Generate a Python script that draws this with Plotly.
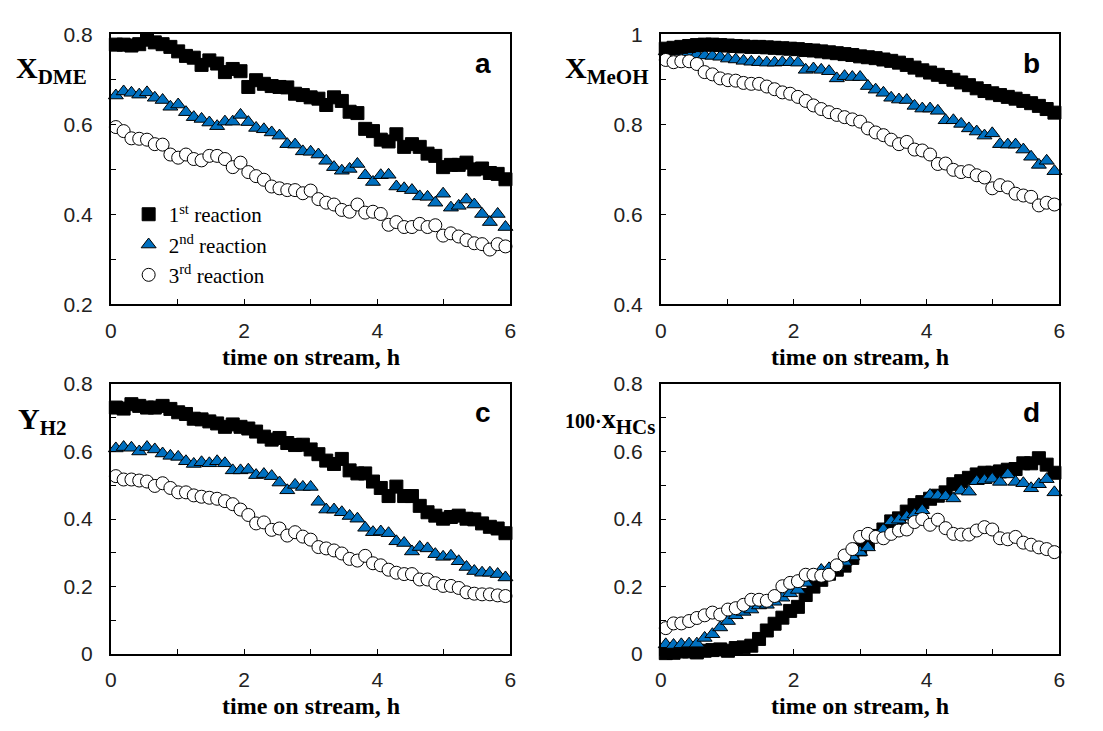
import plotly.graph_objects as go

# time on stream, h
time_h = [0.075, 0.192, 0.309, 0.426, 0.543, 0.66, 0.777, 0.894, 1.011, 1.128,
          1.245, 1.362, 1.479, 1.596, 1.713, 1.83, 1.947, 2.064, 2.181, 2.298,
          2.415, 2.532, 2.649, 2.766, 2.883, 3.0, 3.117, 3.234, 3.351, 3.468,
          3.585, 3.702, 3.819, 3.936, 4.053, 4.17, 4.287, 4.404, 4.521, 4.638,
          4.755, 4.872, 4.989, 5.106, 5.223, 5.34, 5.457, 5.574, 5.691, 5.808, 5.925]

series_names = ["1<sup>st</sup> reaction", "2<sup>nd</sup> reaction", "3<sup>rd</sup> reaction"]

# (a) X_DME
a_r1 = [0.777, 0.777, 0.775, 0.778, 0.788, 0.782, 0.778, 0.772, 0.762, 0.752,
        0.748, 0.732, 0.742, 0.735, 0.716, 0.723, 0.718, 0.683, 0.698, 0.690,
        0.685, 0.683, 0.682, 0.668, 0.665, 0.660, 0.657, 0.643, 0.660, 0.652,
        0.628, 0.625, 0.590, 0.585, 0.566, 0.562, 0.578, 0.550, 0.556, 0.550,
        0.535, 0.530, 0.505, 0.510, 0.510, 0.515, 0.500, 0.502, 0.492, 0.490, 0.478]
a_r2 = [0.664, 0.673, 0.670, 0.666, 0.671, 0.659, 0.654, 0.639, 0.644, 0.627,
        0.616, 0.612, 0.604, 0.596, 0.606, 0.606, 0.621, 0.605, 0.592, 0.589,
        0.582, 0.575, 0.556, 0.555, 0.540, 0.539, 0.533, 0.519, 0.505, 0.497,
        0.501, 0.512, 0.487, 0.472, 0.487, 0.488, 0.462, 0.458, 0.454, 0.440,
        0.439, 0.426, 0.446, 0.415, 0.419, 0.433, 0.422, 0.401, 0.383, 0.401, 0.372]
a_r3 = [0.594, 0.585, 0.569, 0.568, 0.566, 0.556, 0.555, 0.533, 0.526, 0.533,
        0.523, 0.520, 0.530, 0.530, 0.523, 0.505, 0.515, 0.494, 0.485, 0.477,
        0.462, 0.458, 0.454, 0.454, 0.447, 0.453, 0.434, 0.426, 0.422, 0.410,
        0.406, 0.422, 0.404, 0.406, 0.401, 0.377, 0.383, 0.372, 0.372, 0.379,
        0.372, 0.376, 0.353, 0.358, 0.351, 0.343, 0.336, 0.334, 0.322, 0.334, 0.329]

# (b) X_MeOH
b_r1 = [0.968, 0.970, 0.972, 0.974, 0.976, 0.977, 0.977, 0.976, 0.975, 0.974,
        0.973, 0.972, 0.972, 0.971, 0.970, 0.969, 0.968, 0.967, 0.965, 0.964,
        0.962, 0.960, 0.958, 0.956, 0.954, 0.951, 0.949, 0.947, 0.944, 0.941,
        0.937, 0.932, 0.926, 0.920, 0.915, 0.910, 0.905, 0.899, 0.893, 0.887,
        0.880, 0.874, 0.869, 0.865, 0.861, 0.857, 0.852, 0.847, 0.841, 0.834, 0.826]
b_r2 = [0.962, 0.962, 0.961, 0.960, 0.955, 0.953, 0.952, 0.950, 0.946, 0.944,
        0.941, 0.939, 0.938, 0.937, 0.937, 0.938, 0.938, 0.937, 0.921, 0.924,
        0.921, 0.918, 0.902, 0.907, 0.905, 0.905, 0.885, 0.877, 0.870, 0.859,
        0.855, 0.854, 0.841, 0.835, 0.835, 0.830, 0.809, 0.809, 0.801, 0.791,
        0.784, 0.775, 0.780, 0.756, 0.755, 0.755, 0.744, 0.728, 0.710, 0.719, 0.696]
b_r3 = [0.943, 0.938, 0.940, 0.940, 0.934, 0.916, 0.911, 0.902, 0.898, 0.897,
        0.892, 0.890, 0.890, 0.884, 0.878, 0.871, 0.868, 0.861, 0.852, 0.842,
        0.834, 0.827, 0.821, 0.816, 0.811, 0.806, 0.791, 0.782, 0.776, 0.766,
        0.756, 0.761, 0.744, 0.742, 0.733, 0.712, 0.713, 0.699, 0.694, 0.696,
        0.687, 0.682, 0.658, 0.665, 0.660, 0.646, 0.642, 0.639, 0.620, 0.626, 0.622]

# (c) Y_H2
c_r1 = [0.730, 0.727, 0.740, 0.735, 0.730, 0.730, 0.735, 0.726, 0.716, 0.711,
        0.697, 0.695, 0.689, 0.683, 0.673, 0.680, 0.673, 0.668, 0.659, 0.644,
        0.635, 0.640, 0.625, 0.619, 0.620, 0.606, 0.592, 0.573, 0.563, 0.578,
        0.544, 0.535, 0.535, 0.511, 0.492, 0.468, 0.496, 0.468, 0.468, 0.439,
        0.420, 0.410, 0.401, 0.406, 0.410, 0.401, 0.399, 0.387, 0.377, 0.372, 0.358]
c_r2 = [0.609, 0.613, 0.611, 0.600, 0.613, 0.606, 0.594, 0.587, 0.584, 0.571,
        0.563, 0.568, 0.565, 0.571, 0.565, 0.544, 0.544, 0.546, 0.530, 0.533,
        0.527, 0.508, 0.485, 0.501, 0.495, 0.495, 0.451, 0.428, 0.428, 0.420,
        0.409, 0.401, 0.374, 0.361, 0.363, 0.358, 0.334, 0.329, 0.304, 0.317,
        0.313, 0.296, 0.288, 0.291, 0.275, 0.258, 0.246, 0.241, 0.241, 0.237, 0.227]
c_r3 = [0.527, 0.517, 0.517, 0.514, 0.511, 0.498, 0.506, 0.492, 0.479, 0.479,
        0.470, 0.466, 0.463, 0.460, 0.453, 0.444, 0.428, 0.412, 0.387, 0.390,
        0.368, 0.372, 0.351, 0.361, 0.348, 0.339, 0.317, 0.313, 0.307, 0.298,
        0.282, 0.277, 0.291, 0.269, 0.263, 0.250, 0.241, 0.237, 0.237, 0.221,
        0.221, 0.210, 0.202, 0.202, 0.196, 0.183, 0.179, 0.177, 0.177, 0.174, 0.172]

# (d) 100*x_HCs
d_r1 = [0.003, 0.004, 0.008, 0.008, 0.005, 0.010, 0.012, 0.014, 0.010, 0.018,
        0.020, 0.025, 0.045, 0.070, 0.090, 0.108, 0.128, 0.140, 0.175, 0.200,
        0.220, 0.238, 0.250, 0.262, 0.285, 0.310, 0.331, 0.350, 0.369, 0.393,
        0.402, 0.422, 0.441, 0.450, 0.460, 0.469, 0.479, 0.503, 0.512, 0.522,
        0.532, 0.537, 0.537, 0.541, 0.546, 0.548, 0.565, 0.565, 0.580, 0.561, 0.537]
d_r2 = [0.029, 0.027, 0.029, 0.031, 0.031, 0.048, 0.059, 0.079, 0.098, 0.115,
        0.125, 0.132, 0.144, 0.146, 0.155, 0.167, 0.180, 0.190, 0.211, 0.230,
        0.249, 0.254, 0.259, 0.273, 0.289, 0.302, 0.316, 0.345, 0.369, 0.393,
        0.398, 0.407, 0.414, 0.426, 0.471, 0.469, 0.467, 0.461, 0.484, 0.481,
        0.512, 0.515, 0.519, 0.510, 0.532, 0.510, 0.506, 0.491, 0.503, 0.518, 0.479]
d_r3 = [0.077, 0.091, 0.091, 0.098, 0.107, 0.115, 0.123, 0.117, 0.132, 0.136,
        0.146, 0.161, 0.161, 0.158, 0.172, 0.201, 0.211, 0.216, 0.235, 0.235,
        0.232, 0.235, 0.263, 0.292, 0.311, 0.347, 0.356, 0.347, 0.343, 0.356,
        0.366, 0.369, 0.391, 0.400, 0.383, 0.398, 0.373, 0.356, 0.354, 0.354,
        0.366, 0.376, 0.369, 0.343, 0.340, 0.347, 0.330, 0.324, 0.316, 0.311, 0.302]

x_major = [0, 2, 4, 6]
x_minor = [1, 3, 5]

W, H = 1103, 731
# panel pixel boxes (left, right, top, bottom)
boxes = {
    "a": (106, 510, 23, 302),
    "b": (662, 1065, 23, 302),
    "c": (106, 510, 384, 663),
    "d": (662, 1065, 384, 663),
}

def px_x(p):
    return p / W

def px_y(p):
    return 1 - p / H

styles = [
    dict(symbol="square", size=13, color="black", line=dict(color="black", width=1)),
    dict(symbol="triangle-up", size=13, color="#0070C0", line=dict(color="black", width=1)),
    dict(symbol="circle", size=13, color="white", line=dict(color="black", width=1)),
]

panels = [
    ("a", [a_r1, a_r2, a_r3], (0.2, 0.8), [0.2, 0.4, 0.6, 0.8], ["0.2", "0.4", "0.6", "0.8"],
     [0.3, 0.5, 0.7], [0, 1, 2]),
    ("b", [b_r1, b_r2, b_r3], (0.4, 1.0), [0.4, 0.6, 0.8, 1.0], ["0.4", "0.6", "0.8", "1"],
     [0.5, 0.7, 0.9], [1, 0, 2]),
    ("c", [c_r1, c_r2, c_r3], (0.0, 0.8), [0, 0.2, 0.4, 0.6, 0.8], ["0", "0.2", "0.4", "0.6", "0.8"],
     [0.1, 0.3, 0.5, 0.7], [0, 1, 2]),
    ("d", [d_r1, d_r2, d_r3], (0.0, 0.8), [0, 0.2, 0.4, 0.6, 0.8], ["0", "0.2", "0.4", "0.6", "0.8"],
     [0.1, 0.3, 0.5, 0.7], [0, 1, 2]),
]

fig = go.Figure()
tickfont = dict(family="Liberation Sans, Arial", size=21, color="#222222")
minor_common = dict(ticks="inside", ticklen=5, tickwidth=1, tickcolor="black", showgrid=False)
axis_common = dict(showline=True, linecolor="black", linewidth=2, mirror=True,
                   ticks="inside", ticklen=5, tickwidth=1, tickcolor="black",
                   showgrid=False, zeroline=False, tickfont=tickfont)

for k, (key, data, yr, yt, ytt, ymin, order) in enumerate(panels):
    n = "" if k == 0 else str(k + 1)
    l, r, t, b = boxes[key]
    for s in order:
        fig.add_trace(go.Scatter(
            x=time_h, y=data[s], mode="markers", marker=styles[s], name=series_names[s],
            showlegend=(k == 0), legendrank=s + 1, xaxis="x" + n, yaxis="y" + n,
            cliponaxis=False))
    fig.layout["xaxis" + n] = dict(axis_common, domain=[px_x(l), px_x(r)], range=[0, 6],
                                    tickmode="array", tickvals=x_major,
                                    ticktext=[str(v) for v in x_major],
                                    minor=dict(minor_common, tickmode="array", tickvals=x_minor),
                                    anchor="y" + n, ticklabelstandoff=6)
    fig.layout["yaxis" + n] = dict(axis_common, domain=[px_y(b), px_y(t)], range=list(yr),
                                    tickmode="array", tickvals=yt, ticktext=ytt,
                                    minor=dict(minor_common, tickmode="array", tickvals=ymin),
                                    anchor="x" + n, ticklabelstandoff=12)
    # x-axis title
    fig.add_annotation(text="<b>time on stream, h</b>", xref="paper", yref="paper",
                       x=px_x((l + r) / 2), y=px_y(b + 54), xanchor="center", yanchor="middle",
                       showarrow=False,
                       font=dict(family="Liberation Serif, Times New Roman", size=24, color="black"))
    # panel letter
    fig.add_annotation(text="<b>%s</b>" % key, xref="paper", yref="paper",
                       x=px_x(r - 28), y=px_y(t + 30), xanchor="center", yanchor="middle",
                       showarrow=False,
                       font=dict(family="Liberation Sans, Arial", size=28, color="black"))

ylab_font = dict(family="Liberation Serif, Times New Roman", size=30, color="black")
ylabels = [
    ("<b>X<sub>DME</sub></b>", 8, 60),
    ("<b>X<sub>MeOH</sub></b>", 563, 60),
    ("<b>Y<sub>H2</sub></b>", 10, 422),
    ("<b><span style='font-size:20px'>100·</span><span style='font-size:28px'>x</span><sub>HCs</sub></b>", 563, 422),
]
for txt, xp, yp in ylabels:
    fig.add_annotation(text=txt, xref="paper", yref="paper", x=px_x(xp), y=px_y(yp),
                       xanchor="left", yanchor="middle", showarrow=False, font=ylab_font)

fig.update_layout(
    width=W, height=H, margin=dict(l=0, r=0, t=0, b=0),
    paper_bgcolor="white", plot_bgcolor="white",
    showlegend=True,
    legend=dict(x=px_x(124), y=px_y(188), xanchor="left", yanchor="top",
                bgcolor="rgba(0,0,0,0)", borderwidth=0, traceorder="normal",
                font=dict(family="Liberation Serif, Times New Roman", size=21, color="black"),
                itemwidth=30),
)

fig.write_html("out.html")
